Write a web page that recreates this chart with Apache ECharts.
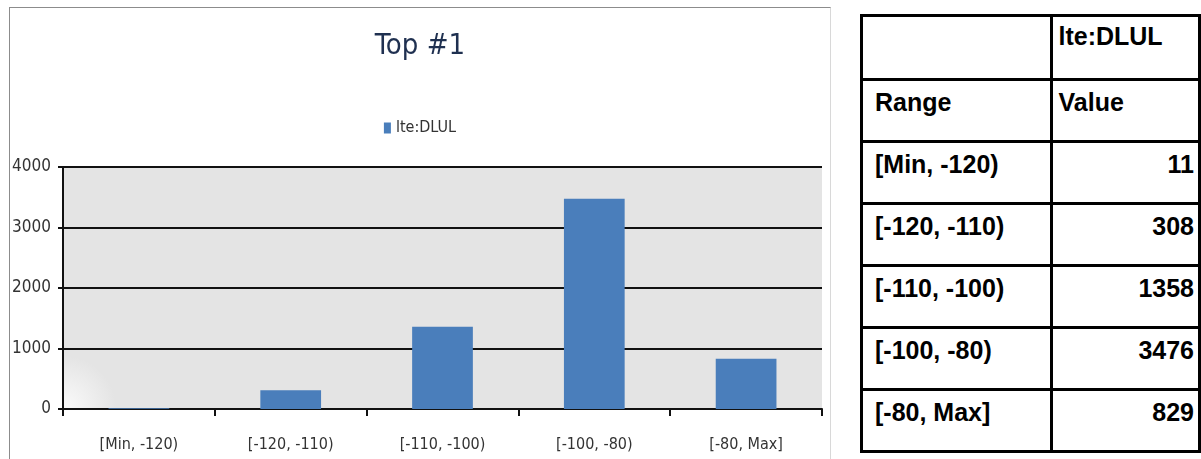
<!DOCTYPE html>
<html>
<head>
<meta charset="utf-8" />
<title>Top #1</title>
<script src="https://cdn.jsdelivr.net/npm/echarts@6.0.0/dist/echarts.min.js"></script>
<style>
  body { margin: 0; background: #fff; width: 1201px; height: 459px; overflow: hidden; position: relative; }
  .frame { position: absolute; left: 9px; top: 7px; width: 822px; height: 470px; border: 1px solid #8c8c8c; border-right-color: #d8d8d8; box-sizing: border-box; }
  #chart { position: absolute; left: 0; top: 0; width: 840px; height: 459px; }
  table.data { position: absolute; left: 860px; top: 14px; border-collapse: collapse; font-family: 'Liberation Sans', Arial, sans-serif; font-weight: bold; font-size: 25px; color: #000; }
  table.data td { border: 3px solid #000; vertical-align: top; height: 62px; padding: 7px 4px 0 12px; line-height: 28px; box-sizing: border-box; }
  table.data tr.head td { height: 64px; padding-top: 5px; }
  table.data td.c1 { width: 192px; }
  table.data td.c2 { width: 148px; padding-left: 5px; }
  table.data td.num { text-align: right; }
</style>
</head>
<body>
<div class="frame"></div>
<div id="chart"></div>
<table class="data" id="tbl"></table>

<script>
  // data
  var chartTitle = 'Top #1';
  var seriesName = 'lte:DLUL';
  var categories = ['[Min, -120)', '[-120, -110)', '[-110, -100)', '[-100, -80)', '[-80, Max]'];
  var values = [11, 308, 1358, 3476, 829];
  var yTicks = [0, 1000, 2000, 3000, 4000];
  var tableHead = ['Range', 'Value'];

  // table on the right
  var tbl = document.getElementById('tbl');
  var rows = [['', seriesName], tableHead];
  for (var i = 0; i < categories.length; i++) {
    rows.push([categories[i], values[i]]);
  }
  rows.forEach(function(r, idx) {
    var tr = document.createElement('tr');
    if (idx === 0) tr.className = 'head';
    var td1 = document.createElement('td');
    td1.className = 'c1';
    td1.textContent = r[0];
    var td2 = document.createElement('td');
    td2.className = 'c2' + (idx > 1 ? ' num' : '');
    td2.textContent = r[1];
    tr.appendChild(td1);
    tr.appendChild(td2);
    tbl.appendChild(tr);
  });

  var narrow = "'Liberation Sans Narrow', 'DejaVu Sans Condensed', sans-serif";
  var myChart = echarts.init(document.getElementById('chart'));

  var option = {
    animation: false,
    title: {
      text: chartTitle,
      left: 'center',
      top: 27,
      textStyle: { fontFamily: narrow, fontSize: 29, fontWeight: 'normal', color: '#1f3050' }
    },
    legend: {
      data: [seriesName],
      top: 115,
      left: 'center',
      icon: 'rect',
      itemWidth: 7,
      itemHeight: 11,
      itemGap: 4,
      textStyle: { fontFamily: narrow, fontSize: 16, color: '#333' }
    },
    grid: {
      left: 63,
      right: 18,
      top: 167,
      bottom: 50,
      show: true,
      borderWidth: 0,
      backgroundColor: new echarts.graphic.RadialGradient(0, 1, 0.22, [
        { offset: 0, color: '#fbfbfb' },
        { offset: 1, color: '#e4e4e4' }
      ])
    },
    xAxis: {
      type: 'category',
      data: categories,
      boundaryGap: true,
      axisLine: { lineStyle: { color: '#111', width: 2 } },
      axisTick: { show: true, length: 7, lineStyle: { color: '#111', width: 2 } },
      axisLabel: { margin: 28, fontFamily: narrow, fontSize: 16, color: '#333' }
    },
    yAxis: {
      type: 'value',
      min: yTicks[0],
      max: yTicks[yTicks.length - 1],
      interval: yTicks[1] - yTicks[0],
      axisLine: { show: true, lineStyle: { color: '#111', width: 2 } },
      axisTick: { show: true, length: 5, lineStyle: { color: '#111', width: 2 } },
      splitLine: { lineStyle: { color: '#111', width: 2 } },
      axisLabel: {
        margin: 12, fontFamily: narrow, fontSize: 17, color: '#333',
        formatter: function(v) { return String(v); }
      }
    },
    series: [
      {
        name: seriesName,
        type: 'bar',
        data: values,
        barWidth: '40%',
        itemStyle: { color: '#4a7ebb' }
      }
    ]
  };

  myChart.setOption(option);
</script>
</body>
</html>
